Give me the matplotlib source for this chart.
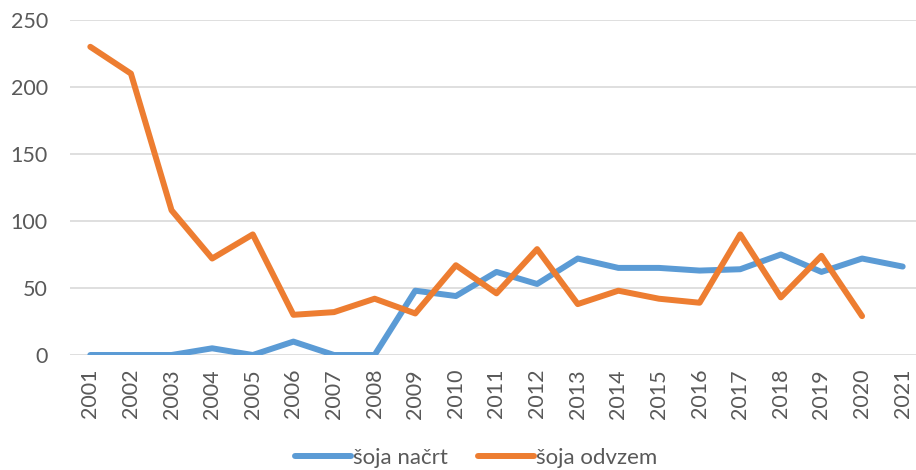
import matplotlib
matplotlib.use('Agg')
import matplotlib.pyplot as plt

years = [str(y) for y in range(2001, 2022)]
soja_nacrt = [0, 0, 0, 5, 0, 10, 0, 0, 48, 44, 62, 53, 72, 65, 65, 63, 64, 75, 62, 72, 66]
soja_odvzem = [230, 210, 108, 72, 90, 30, 32, 42, 31, 67, 46, 79, 38, 48, 42, 39, 90, 43, 74, 29]

plt.rcParams['font.family'] = ['Lato', 'DejaVu Sans']
grey = '#595959'

fig = plt.figure(figsize=(9.16, 4.70), dpi=100)
ax = fig.add_axes([70 / 916, 115 / 470, 853 / 916, 335 / 470])

x = list(range(len(years)))
ax.plot(x, soja_nacrt, color='#5B9BD5', lw=4.3, solid_capstyle='round',
        solid_joinstyle='round', label='šoja načrt')
ax.plot(x[:len(soja_odvzem)], soja_odvzem, color='#ED7D31', lw=4.3,
        solid_capstyle='round', solid_joinstyle='round', label='šoja odvzem')

ax.set_xlim(-0.5, len(years) - 0.5)
ax.set_ylim(0, 250)
ax.set_yticks(range(0, 251, 50))
ax.set_xticks(x)
ax.set_xticklabels(years, rotation=90)
ax.grid(True, axis='y', color='#D9D9D9', lw=1.2)
ax.set_axisbelow(True)
for s in ax.spines.values():
    s.set_visible(False)
ax.tick_params(axis='both', length=0, labelsize=15.5, labelcolor=grey)
ax.tick_params(axis='y', pad=16)
ax.tick_params(axis='x', pad=10)

fig.legend(loc='center', bbox_to_anchor=(0.52, 12 / 470), ncol=2, frameon=False,
           fontsize=16, labelcolor=grey, handlelength=2.5, handletextpad=0.1,
           columnspacing=1.35)

fig.savefig('out.png', dpi=100)
